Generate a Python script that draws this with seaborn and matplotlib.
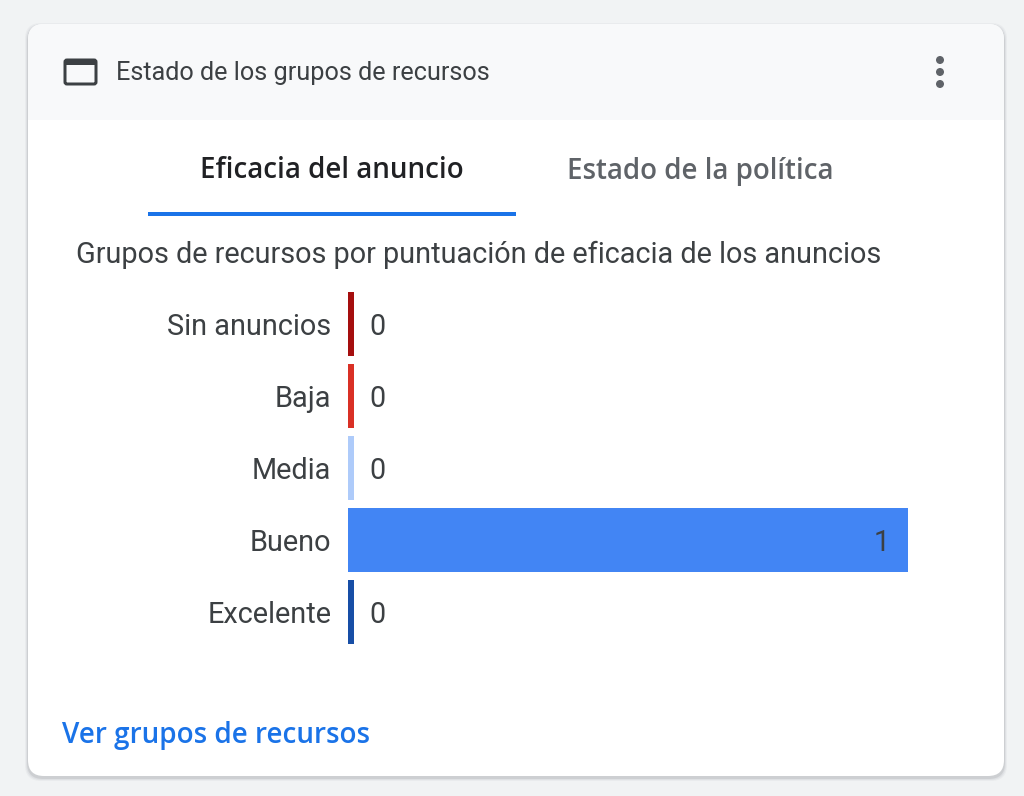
import pandas as pd
import numpy as np
import matplotlib
matplotlib.use('Agg')
import matplotlib.pyplot as plt
import seaborn as sns
from matplotlib.patches import FancyBboxPatch, Rectangle, Circle

# Data
categories = ['Sin anuncios', 'Baja', 'Media', 'Bueno', 'Excelente']
counts = [0, 0, 0, 1, 0]
bar_colors = ['#a50e0e', '#d93025', '#aecbfa', '#4285f4', '#174ea6']

title = 'Estado de los grupos de recursos'
tab_active = 'Eficacia del anuncio'
tab_other = 'Estado de la política'
subtitle = 'Grupos de recursos por puntuación de eficacia de los anuncios'
link = 'Ver grupos de recursos'

W, H = 1024, 796
DPI = 100
px = 72 / DPI  # one pixel in points

sns.set_theme(style='white')
plt.rcParams['font.family'] = ['Roboto', 'DejaVu Sans']

fig = plt.figure(figsize=(W / DPI, H / DPI), dpi=DPI, facecolor='#f1f3f4')

# page layer in pixel coordinates
bg = fig.add_axes([0, 0, 1, 1], zorder=0)
bg.set_xlim(0, W)
bg.set_ylim(H, 0)
bg.axis('off')

# card shadow, heavier under the card
for grow, alpha in [(3, 0.04), (2, 0.06), (1, 0.10)]:
    bg.add_patch(FancyBboxPatch((28 - grow, 24 - grow + 2), 976 + 2 * grow, 752 + 2 * grow,
                                boxstyle='round,pad=0,rounding_size=16', fc='#3c4043', ec='none', alpha=alpha))

card = FancyBboxPatch((28, 24), 976, 752, boxstyle='round,pad=0,rounding_size=16', fc='white', ec='none')
bg.add_patch(card)

header = Rectangle((28, 24), 976, 96, fc='#f8f9fa', ec='none')
bg.add_patch(header)
header.set_clip_path(card)

# window icon
bg.add_patch(FancyBboxPatch((65, 60), 31, 24, boxstyle='round,pad=0,rounding_size=2', fc='none', ec='#3c4043', lw=3 * px))
bg.add_patch(Rectangle((65, 59), 31, 6, fc='#3c4043', ec='none'))

bg.text(116, 73, title, fontsize=25.2 * px, color='#3c4043', va='center', ha='left')

# overflow menu
for y in [60, 72, 84]:
    bg.add_patch(Circle((940, y), 4, fc='#5f6368', ec='none'))

# tabs
bg.text(332, 171, tab_active, fontsize=27.7 * px, color='#202124', va='center', ha='center',
        family=['Open Sans', 'DejaVu Sans'], fontweight='semibold')
bg.text(700, 171, tab_other, fontsize=27.7 * px, color='#5f6368', va='center', ha='center',
        family=['Open Sans', 'DejaVu Sans'], fontweight='semibold')
bg.add_patch(Rectangle((148, 212), 368, 4, fc='#1a73e8', ec='none'))

bg.text(76, 255, subtitle, fontsize=28.9 * px, color='#3c4043', va='center', ha='left')

bg.text(62, 735, link, fontsize=27.9 * px, color='#1a73e8', va='center', ha='left',
        family=['Open Sans', 'DejaVu Sans'], fontweight='semibold')

# bar chart
ax = fig.add_axes([348 / W, 1 - 648 / H, 560 / W, 360 / H], zorder=1)
ax.patch.set_alpha(0)

min_stub = 6 / 560  # zero bars still show a thin stub
df = pd.DataFrame({'category': categories, 'count': counts})
df['shown'] = np.maximum(df['count'], min_stub)

sns.barplot(data=df, x='shown', y='category', hue='category', palette=bar_colors, legend=False,
            orient='h', width=64 / 72, saturation=1, linewidth=0, ax=ax)
ax.set_xlim(0, 1)
ax.set_ylim(4.5, -0.5)
ax.set_xlabel('')
ax.set_ylabel('')
ax.set_xticks([])
ax.tick_params(axis='y', length=0, pad=16.5 * px, labelsize=28.9 * px, labelcolor='#3c4043')
sns.despine(ax=ax, left=True, bottom=True)

for i, (v, shown) in enumerate(zip(df['count'], df['shown'])):
    if v > 0:
        ax.annotate(str(v), (shown, i), xytext=(-18 * px, 0), textcoords='offset points',
                    ha='right', va='center_baseline', fontsize=28.8 * px, color='#3c4043')
    else:
        ax.annotate(str(v), (shown, i), xytext=(15 * px, 0), textcoords='offset points',
                    ha='left', va='center_baseline', fontsize=28.8 * px, color='#3c4043')

fig.savefig('out.png', dpi=DPI, facecolor=fig.get_facecolor())
